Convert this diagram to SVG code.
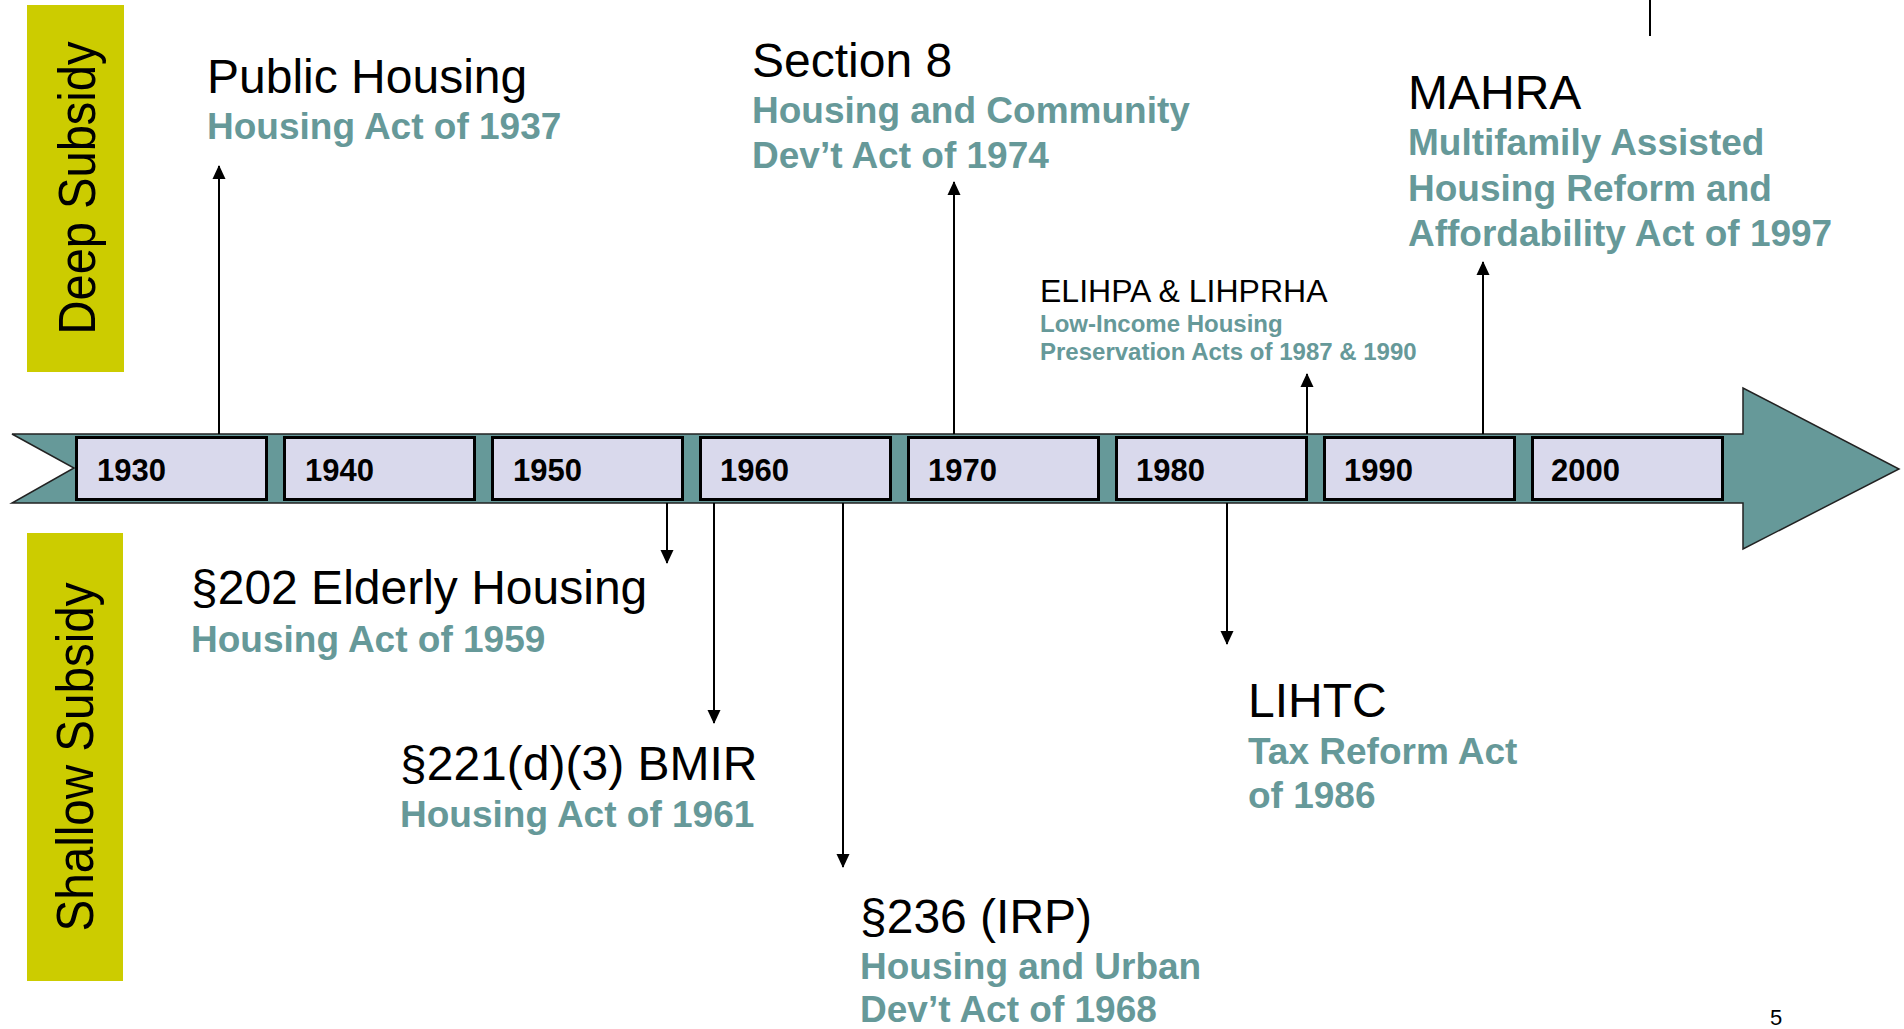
<svg xmlns="http://www.w3.org/2000/svg" width="1904" height="1029" viewBox="0 0 1904 1029">
<style>
  .title{font-family:"Liberation Sans",Arial,sans-serif;font-size:48px;fill:#000}
  .sub{font-family:"Liberation Sans",Arial,sans-serif;font-size:37px;font-weight:bold;fill:#669999}
  .small{font-family:"Liberation Sans",Arial,sans-serif;font-size:32px;fill:#000}
  .smallsub{font-family:"Liberation Sans",Arial,sans-serif;font-size:24px;font-weight:bold;fill:#669999}
  .year{font-family:"Liberation Sans",Arial,sans-serif;font-size:31px;font-weight:bold;fill:#000}
  .band{fill:#CCCC00}
  .bandtext{font-family:"Liberation Sans",Arial,sans-serif;font-size:52px;fill:#000}
  .box{fill:#D9D9EC;stroke:#000;stroke-width:3}
  .conn{stroke:#000;stroke-width:2;fill:none}
</style>
<defs>
  <marker id="ah" markerWidth="14" markerHeight="15" refX="14" refY="7" orient="auto" markerUnits="userSpaceOnUse" viewBox="0 0 15 14">
    <path d="M0,0 L15,7 L0,14 Z" fill="#000"/>
  </marker>
</defs>
<rect width="1904" height="1029" fill="#fff"/>

<g id="deep-subsidy">
  <rect class="band" x="27" y="5" width="97" height="367"/>
  <text class="bandtext" x="95" y="188" text-anchor="middle" transform="rotate(-90 95 188)" textLength="293" lengthAdjust="spacingAndGlyphs">Deep Subsidy</text>
</g>
<g id="shallow-subsidy">
  <rect class="band" x="27" y="533" width="96" height="448"/>
  <text class="bandtext" x="93" y="757" text-anchor="middle" transform="rotate(-90 93 757)" textLength="349" lengthAdjust="spacingAndGlyphs">Shallow Subsidy</text>
</g>

<g id="timeline">
  <path d="M12,434 L1743,434 L1743,388 L1899,469 L1743,549 L1743,503 L12,503 L74,468 Z" fill="#669999" stroke="#222" stroke-width="1.5"/>
  <g id="y1930"><rect class="box" x="76.5" y="437.5" width="190" height="62"/><text class="year" x="97" y="481">1930</text></g>
  <g id="y1940"><rect class="box" x="284.5" y="437.5" width="190" height="62"/><text class="year" x="305" y="481">1940</text></g>
  <g id="y1950"><rect class="box" x="492.5" y="437.5" width="190" height="62"/><text class="year" x="513" y="481">1950</text></g>
  <g id="y1960"><rect class="box" x="700.5" y="437.5" width="190" height="62"/><text class="year" x="720" y="481">1960</text></g>
  <g id="y1970"><rect class="box" x="908.5" y="437.5" width="190" height="62"/><text class="year" x="928" y="481">1970</text></g>
  <g id="y1980"><rect class="box" x="1116.5" y="437.5" width="190" height="62"/><text class="year" x="1136" y="481">1980</text></g>
  <g id="y1990"><rect class="box" x="1324.5" y="437.5" width="190" height="62"/><text class="year" x="1344" y="481">1990</text></g>
  <g id="y2000"><rect class="box" x="1532.5" y="437.5" width="190" height="62"/><text class="year" x="1551" y="481">2000</text></g>
</g>

<g id="connectors">
  <line class="conn" x1="219" y1="434" x2="219" y2="166" marker-end="url(#ah)"/>
  <line class="conn" x1="954" y1="434" x2="954" y2="182" marker-end="url(#ah)"/>
  <line class="conn" x1="1307" y1="434" x2="1307" y2="374" marker-end="url(#ah)"/>
  <line class="conn" x1="1483" y1="434" x2="1483" y2="262" marker-end="url(#ah)"/>
  <line class="conn" x1="667" y1="503" x2="667" y2="563" marker-end="url(#ah)"/>
  <line class="conn" x1="714" y1="503" x2="714" y2="723" marker-end="url(#ah)"/>
  <line class="conn" x1="843" y1="503" x2="843" y2="867" marker-end="url(#ah)"/>
  <line class="conn" x1="1227" y1="503" x2="1227" y2="644" marker-end="url(#ah)"/>
  <line class="conn" x1="1650" y1="0" x2="1650" y2="36"/>
</g>

<g id="public-housing">
  <text class="title" x="207" y="93">Public Housing</text>
  <text class="sub" x="207" y="139">Housing Act of 1937</text>
</g>
<g id="section-8">
  <text class="title" x="752" y="77">Section 8</text>
  <text class="sub" x="752" y="123">Housing and Community</text>
  <text class="sub" x="752" y="168">Dev’t Act of 1974</text>
</g>
<g id="elihpa">
  <text class="small" x="1040" y="302">ELIHPA &amp; LIHPRHA</text>
  <text class="smallsub" x="1040" y="332">Low-Income Housing</text>
  <text class="smallsub" x="1040" y="360">Preservation Acts of 1987 &amp; 1990</text>
</g>
<g id="mahra">
  <text class="title" x="1408" y="109">MAHRA</text>
  <text class="sub" x="1408" y="155">Multifamily Assisted</text>
  <text class="sub" x="1408" y="201">Housing Reform and</text>
  <text class="sub" x="1408" y="246">Affordability Act of 1997</text>
</g>
<g id="s202">
  <text class="title" x="191" y="604">§202 Elderly Housing</text>
  <text class="sub" x="191" y="652">Housing Act of 1959</text>
</g>
<g id="s221">
  <text class="title" x="400" y="780">§221(d)(3) BMIR</text>
  <text class="sub" x="400" y="827">Housing Act of 1961</text>
</g>
<g id="s236">
  <text class="title" x="860" y="933">§236 (IRP)</text>
  <text class="sub" x="860" y="979">Housing and Urban</text>
  <text class="sub" x="860" y="1022">Dev’t Act of 1968</text>
</g>
<g id="lihtc">
  <text class="title" x="1248" y="717">LIHTC</text>
  <text class="sub" x="1248" y="764">Tax Reform Act</text>
  <text class="sub" x="1248" y="808">of 1986</text>
</g>
<text x="1770" y="1025" font-family="Liberation Sans, Arial, sans-serif" font-size="22" fill="#000">5</text>
</svg>
